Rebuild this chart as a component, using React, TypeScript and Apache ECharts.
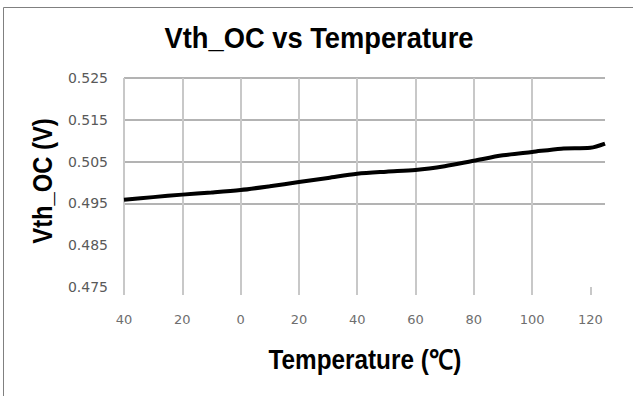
import React, { useEffect, useRef } from "react";
import * as echarts from "echarts";

const temps = [-40, -30, -20, -10, 0, 10, 20, 30, 40, 50, 60, 70, 80, 90, 100, 110, 120, 125];
const vth = [0.4959, 0.4965, 0.4971, 0.4976, 0.4982, 0.4991, 0.5001, 0.5011, 0.5021, 0.5026, 0.503, 0.5039, 0.5052, 0.5065, 0.5073, 0.5081, 0.5083, 0.5093];
const xTicks = [-40, -20, 0, 20, 40, 60, 80, 100, 120];

const titleText = "Vth_OC vs Temperature";
const xTitle = "Temperature (℃)";
const yTitle = "Vth_OC (V)";

export default function App() {
  const ref = useRef<HTMLDivElement>(null);
  useEffect(() => {
    if (!ref.current) return;
    const chart = echarts.init(ref.current, null, { renderer: "svg" });
    const sans = "'Liberation Sans', Arial, sans-serif";
    chart.setOption({
      animation: false,
      backgroundColor: "#ffffff",
      grid: { left: 124, right: 28, top: 78, bottom: 109 },
      xAxis: {
        type: "value",
        min: -40,
        max: 125,
        interval: 20,
        axisLine: { show: false },
        axisTick: { show: true, length: 8, customValues: xTicks, lineStyle: { color: "#c8c8c8", width: 2 } },
        axisLabel: {
          customValues: xTicks,
          margin: 26,
          fontFamily: "'DejaVu Sans', sans-serif",
          fontSize: 13,
          color: "#6e6e6e",
          formatter: (v: number) => String(Math.abs(v)),
        },
        splitLine: { show: true, showMaxLine: false, lineStyle: { color: "#c8c8c8", width: 2 } },
      },
      yAxis: {
        type: "value",
        min: 0.475,
        max: 0.525,
        interval: 0.01,
        axisLine: { show: false },
        axisTick: { show: false },
        axisLabel: {
          margin: 16,
          fontFamily: "'DejaVu Sans', sans-serif",
          fontSize: 14,
          color: "#595959",
          formatter: (v: number) => v.toFixed(3),
        },
        splitLine: {
          show: true,
          lineStyle: {
            color: ["transparent", "transparent", "#9a9a9a", "#9a9a9a", "#9a9a9a", "#9a9a9a"],
            width: 1.5,
          },
        },
      },
      series: [
        {
          type: "line",
          data: temps.map((t, i) => [t, vth[i]]),
          smooth: 0.3,
          showSymbol: false,
          lineStyle: { color: "#000000", width: 4 },
        },
      ],
      graphic: [
        {
          type: "rect",
          shape: { x: 3.5, y: 7.5, width: 700, height: 500 },
          style: { fill: "none", stroke: "#808080", lineWidth: 1 },
          silent: true,
        },
        {
          type: "text",
          x: 319,
          y: 37.5,
          scaleX: 0.91,
          style: {
            text: titleText,
            fontFamily: sans,
            fontWeight: "bold",
            fontSize: 30,
            fill: "#000000",
            textAlign: "center",
            textVerticalAlign: "middle",
          },
        },
        {
          type: "text",
          x: 365,
          y: 360,
          scaleX: 0.9,
          style: {
            text: xTitle,
            fontFamily: sans,
            fontWeight: "bold",
            fontSize: 27,
            fill: "#000000",
            textAlign: "center",
            textVerticalAlign: "middle",
          },
        },
        {
          type: "text",
          x: 42,
          y: 181,
          rotation: Math.PI / 2,
          scaleX: 0.88,
          style: {
            text: yTitle,
            fontFamily: sans,
            fontWeight: "bold",
            fontSize: 27,
            fill: "#000000",
            textAlign: "center",
            textVerticalAlign: "middle",
          },
        },
      ],
    });
    return () => chart.dispose();
  }, []);
  return (
    <div
      ref={ref}
      style={{ position: "fixed", left: 0, top: 0, width: 633, height: 396 }}
    />
  );
}
